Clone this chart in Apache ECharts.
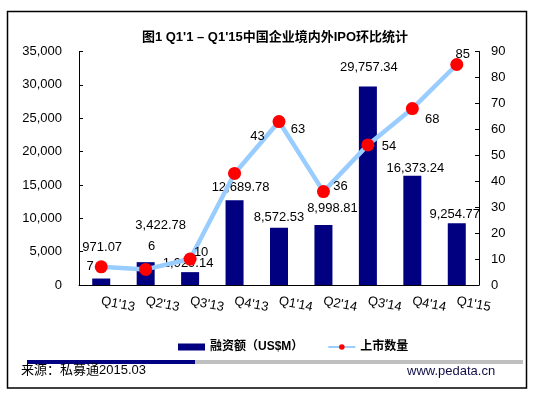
<!DOCTYPE html>
<html>
<head>
<meta charset="utf-8">
<script src="https://cdn.jsdelivr.net/npm/echarts@6/dist/echarts.min.js"></script>
<style>
    html, body { margin: 0; padding: 0; background: #fff; }
    #chart { width: 537px; height: 397px; }
</style>
</head>
<body>
<div id="chart"></div>
<script>
// 季度
var quarters = ["Q1'13", "Q2'13", "Q3'13", "Q4'13", "Q1'14", "Q2'14", "Q3'14", "Q4'14", "Q1'15"];
// 融资额（US$M）
var fundValues = [971.07, 3422.78, 1929.14, 12689.78, 8572.53, 8998.81, 29757.34, 16373.24, 9254.77];
// 上市数量
var ipoCounts = [7, 6, 10, 43, 63, 36, 54, 68, 85];

// 标签的手动偏移（原图里标签被拖动过）
var barLabelShift = [[1, -32], [15, -37], [-2, -9], [6, -13], [0, -11], [9, -17], [1, -20], [3, -8], [-2, -9]];
var lineLabelShift = [[-11, 0], [6, -23], [11, -7], [23, -37], [19, 8], [17, -5], [21, 2], [20, 11], [6, -10]];

var FONT = "Arial, 'Liberation Sans', 'Noto Sans CJK SC', sans-serif";

function addCommas(v) {
    var parts = String(v).split('.');
    parts[0] = parts[0].replace(/\B(?=(\d{3})+(?!\d))/g, ',');
    return parts.join('.');
}

var barData = fundValues.map(function (v, i) {
    return {
        value: v,
        label: { offset: [barLabelShift[i][0], barLabelShift[i][1] + 7] }
    };
});
var lineData = ipoCounts.map(function (v, i) {
    return {
        value: v,
        label: { offset: lineLabelShift[i] }
    };
});

var chart = echarts.init(document.getElementById('chart'));
chart.setOption({
    animation: false,
    backgroundColor: '#fff',
    textStyle: { fontFamily: FONT },
    title: {
        text: "图1 Q1'1 – Q1'15中国企业境内外IPO环比统计",
        left: 270,
        textAlign: 'center',
        top: 26,
        textStyle: { fontSize: 13, fontWeight: 'bold', color: '#000', fontFamily: FONT }
    },
    grid: { left: 79, right: 58, top: 51.5, bottom: 112 },
    legend: {
        left: 173,
        top: 336,
        itemWidth: 27,
        itemHeight: 7,
        itemGap: 24,
        textStyle: { fontSize: 12, fontWeight: 'bold', color: '#000', fontFamily: FONT },
        data: [
            { name: '融资额（US$M）', icon: 'rect' },
            { name: '上市数量' }
        ]
    },
    xAxis: {
        type: 'category',
        data: quarters,
        axisLine: { lineStyle: { color: '#000', width: 1 } },
        axisTick: { inside: true, length: 4, lineStyle: { color: '#000' } },
        axisLabel: { rotate: -11, margin: 16, fontSize: 13, color: '#000', interval: 0 }
    },
    yAxis: [{
        type: 'value',
        min: 0,
        max: 35000,
        interval: 5000,
        splitLine: { show: false },
        axisLine: { show: true, lineStyle: { color: '#000', width: 1 } },
        axisTick: { show: true, inside: true, length: 4, lineStyle: { color: '#000' } },
        axisLabel: { margin: 17, fontSize: 13, color: '#000', formatter: function (v) { return addCommas(v); } }
    }, {
        type: 'value',
        min: 0,
        max: 90,
        interval: 10,
        splitLine: { show: false },
        axisLine: { show: true, lineStyle: { color: '#000', width: 1 } },
        axisTick: { show: true, inside: true, length: 4, lineStyle: { color: '#000' } },
        axisLabel: { margin: 12, fontSize: 13, color: '#000' }
    }],
    series: [{
        name: '融资额（US$M）',
        type: 'bar',
        data: barData,
        barWidth: 18,
        itemStyle: { color: '#000080' },
        label: {
            show: true,
            position: 'top',
            distance: 0,
            fontSize: 13,
            color: '#000',
            formatter: function (p) { return addCommas(p.value.toFixed(2)); }
        },
        z: 2
    }, {
        name: '上市数量',
        type: 'line',
        yAxisIndex: 1,
        data: lineData,
        symbol: 'circle',
        symbolSize: 13,
        lineStyle: { color: '#99CCFF', width: 4.5 },
        itemStyle: { color: '#FF0000', borderWidth: 0 },
        label: {
            show: true,
            position: 'inside',
            fontSize: 13,
            color: '#000'
        },
        z: 3
    }],
    graphic: [{
        type: 'rect',
        shape: { x: 7.5, y: 11.5, width: 519, height: 376.5 },
        style: { fill: 'none', stroke: '#000', lineWidth: 1.5 },
        silent: true
    }, {
        type: 'rect',
        shape: { x: 190, y: 360, width: 333, height: 4 },
        style: { fill: '#BFBFBF' },
        silent: true
    }, {
        type: 'rect',
        shape: { x: 27, y: 360, width: 168, height: 4 },
        style: { fill: '#000080' },
        silent: true
    }, {
        type: 'text',
        left: 21,
        top: 364,
        style: {
            text: '{a|来源：私募通}{b|2015.03}',
            rich: {
                a: { fontSize: 13, color: '#000', fontFamily: FONT },
                b: { fontSize: 13, color: '#000080', fontFamily: FONT }
            }
        }
    }, {
        type: 'text',
        left: 407,
        top: 365,
        style: { text: 'www.pedata.cn', fontSize: 13, fill: '#101048', fontFamily: FONT }
    }]
});
</script>
</body>
</html>
